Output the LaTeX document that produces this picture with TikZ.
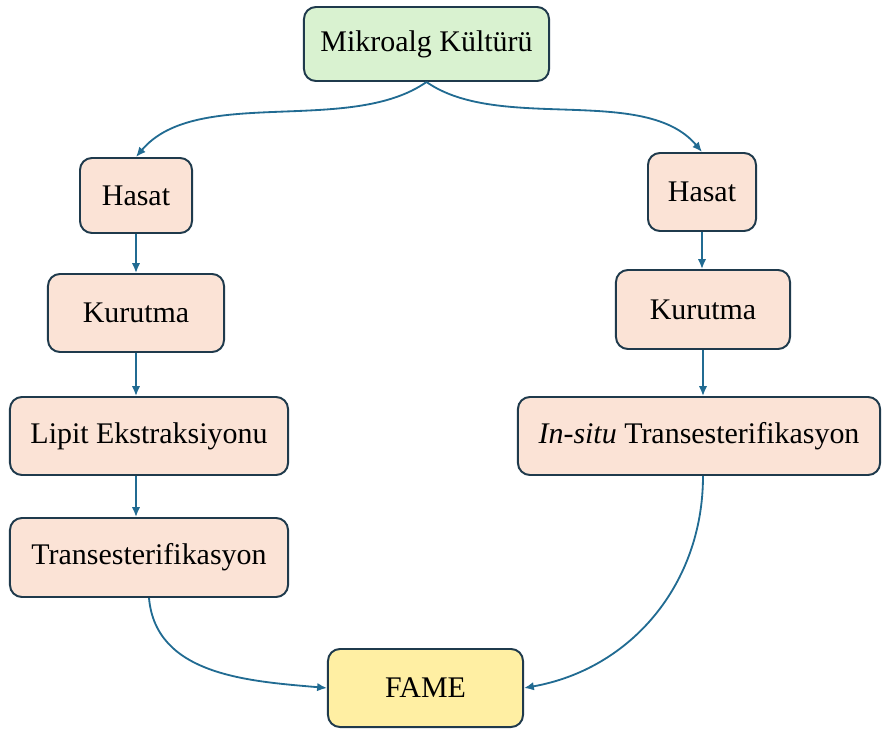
\documentclass[tikz,border=0pt]{standalone}
\usepackage{fontspec}
\setmainfont{Liberation Serif}
\usetikzlibrary{arrows.meta}
\definecolor{kenar}{HTML}{1F3A4C}
\definecolor{okrenk}{HTML}{216B92}
\definecolor{yesil}{HTML}{D9F2D0}
\definecolor{seftali}{HTML}{FBE3D6}
\definecolor{sari}{HTML}{FFEFA3}

\begin{document}
\begin{tikzpicture}[x=0.025cm,y=-0.025cm,
    adim/.style={draw=kenar,line width=1.4pt,rounded corners=8.5pt,fill=seftali,
        inner sep=2pt,font=\fontsize{21.3}{25}\selectfont},
    ok/.style={draw=okrenk,line width=1.3pt,-{Latex[length=7pt,width=6pt]}}]
    \useasboundingbox (0,0) rectangle (882,729);
    % ust kutu
    \node[adim,fill=yesil,minimum width=6.125cm,minimum height=1.85cm] (kultur) at (426.5,44) {Mikroalg Kültürü};
    % sol kol
    \node[adim,minimum width=2.8cm,minimum height=1.875cm] (hasatA) at (136,195.5) {Hasat};
    \node[adim,minimum width=4.4cm,minimum height=1.95cm] (kurutA) at (136,313) {Kurutma};
    \node[adim,minimum width=6.95cm,minimum height=1.95cm] (lipit) at (149,436) {Lipit Ekstraksiyonu};
    \node[adim,minimum width=6.95cm,minimum height=1.975cm] (trans) at (149,557.5) {Transesterifikasyon};
    % sag kol
    \node[adim,minimum width=2.7cm,minimum height=1.95cm] (hasatB) at (702,192) {Hasat};
    \node[adim,minimum width=4.35cm,minimum height=1.975cm] (kurutB) at (703,309.5) {Kurutma};
    \node[adim,minimum width=9.05cm,minimum height=1.95cm] (insitu) at (699,436) {\textit{In-situ} Transesterifikasyon};
    % sonuc
    \node[adim,fill=sari,minimum width=4.875cm,minimum height=1.95cm] (fame) at (425.5,688) {FAME};

    \draw[ok] (kultur.south) to[out=-145,in=50,looseness=0.8] (hasatA.north);
    \draw[ok] (kultur.south) to[out=-35,in=130,looseness=0.8] (hasatB.north);
    \draw[ok] (hasatA.south) -- (kurutA.north);
    \draw[ok] (kurutA.south) -- (kurutA.south |- lipit.north);
    \draw[ok] (kurutA.south |- lipit.south) -- (kurutA.south |- trans.north);
    \draw[ok] (hasatB.south) -- (hasatB.south |- kurutB.north);
    \draw[ok] (kurutB.south) -- (kurutB.south |- insitu.north);
    \draw[ok] (trans.south) to[out=-85,in=175] (fame.west);
    \draw[ok] (kurutB.south |- insitu.south) to[out=-90,in=10] (fame.east);
\end{tikzpicture}
\end{document}
